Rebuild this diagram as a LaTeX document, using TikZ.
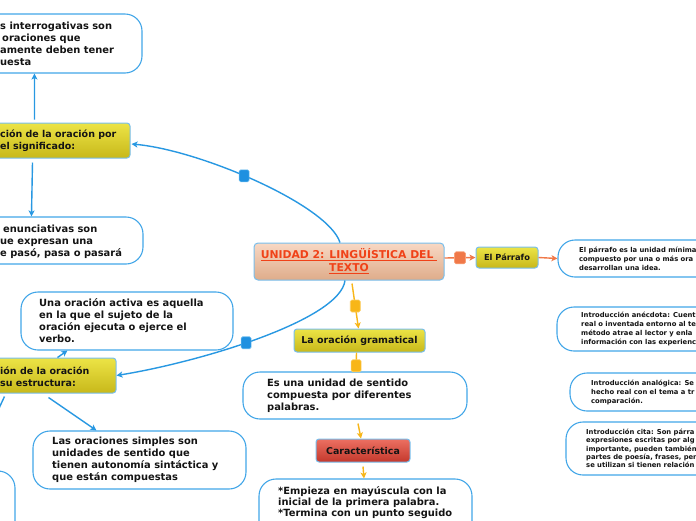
\documentclass[tikz,border=0pt]{standalone}
\usepackage{fontspec}
\setmainfont{DejaVu Sans}
\usetikzlibrary{arrows.meta,calc}
\definecolor{lineblue}{RGB}{40,152,226}
\definecolor{bubbleblue}{RGB}{66,166,232}
\definecolor{boxedge}{RGB}{120,190,236}
\definecolor{yeltop}{RGB}{236,228,70}
\definecolor{yelbot}{RGB}{200,184,26}
\definecolor{peachtop}{RGB}{248,216,196}
\definecolor{peachbot}{RGB}{222,172,138}
\definecolor{titlered}{RGB}{240,66,24}
\definecolor{orangeline}{RGB}{240,120,72}
\definecolor{orangeedge}{RGB}{248,160,120}
\definecolor{goldline}{RGB}{248,182,24}
\definecolor{goldedge}{RGB}{252,206,100}
\definecolor{redtop}{RGB}{236,112,98}
\definecolor{redbot}{RGB}{196,56,44}
\definecolor{sqblue}{RGB}{30,144,224}
\definecolor{sqblueedge}{RGB}{110,190,240}
\definecolor{textblack}{RGB}{20,20,20}
\begin{document}
\begin{tikzpicture}[x=1pt,y=-1pt,
  bubble/.style={draw=bubbleblue, line width=1.1pt, fill=white, rounded corners=17pt, inner sep=0pt},
  btext/.style={anchor=west, align=left, inner sep=0pt, font=\fontsize{9.9}{12}\selectfont\bfseries, text=textblack},
  stext/.style={btext, font=\fontsize{6.8}{8.8}\selectfont\bfseries},
  ybox/.style={draw=boxedge, line width=1pt, rounded corners=3pt, top color=yeltop, bottom color=yelbot, inner sep=0pt, font=\fontsize{9.5}{12}\selectfont\bfseries, text=textblack},
  conn/.style={line width=1.4pt, -{Stealth[length=6pt,width=6pt,inset=1.5pt]}},
  sqbase/.style={minimum width=10pt, minimum height=12pt, inner sep=0pt, rounded corners=1.5pt, line width=0.6pt},
  sqb/.style={sqbase, draw=sqblueedge, fill=sqblue},
  sqo/.style={sqbase, minimum width=11pt, draw=orangeedge, fill=orangeline},
  sqg/.style={sqbase, draw=goldedge, fill=goldline},
]
\useasboundingbox (0,0) rectangle (696,520);
\clip (0,0) rectangle (696,520);
\fill[white] (0,0) rectangle (696,520);

% ---- boxes ----
\node[bubble, minimum width=170pt, minimum height=59pt] (top) at (57,43.5) {};
\node[btext] (topt) at (0,44) {s interrogativas son\\\hspace*{2pt}oraciones que\\amente deben tener\\uesta};

\node[ybox, minimum width=140pt, minimum height=35pt] (sig) at (60,140.5) {};
\node[btext, font=\fontsize{9.5}{12}\selectfont\bfseries] (sigt) at (0,141) {ción de la oración por\\el significado:};

\node[bubble, minimum width=165pt, minimum height=47pt] (enu) at (60.5,240.5) {};
\node[btext] (enut) at (0,241.3) {\hspace*{3pt}enunciativas son\\ue expresan una\\e pasó, pasa o pasará};

\node[bubble, minimum width=212pt, minimum height=58pt] (act) at (127,321) {};
\node[btext] (actt) at (39,321) {Una oración activa es aquella\\en la que el sujeto de la\\oración ejecuta o ejerce el\\verbo.};

\node[ybox, minimum width=131pt, minimum height=35pt] (est) at (50.5,375.5) {};
\node[btext, font=\fontsize{9.5}{12}\selectfont\bfseries] (estt) at (0,377) {ión de la oración\\su estructura:};

\node[bubble, minimum width=213pt, minimum height=58pt] (simp) at (139.5,460) {};
\node[btext] (simpt) at (52,460) {Las oraciones simples son\\unidades de sentido que\\tienen autonomía sintáctica y\\que están compuestas};

\node[bubble, minimum width=90pt, minimum height=129pt] (pb) at (-30,535.5) {};

\node[draw=boxedge, line width=1pt, rounded corners=4pt, top color=peachtop, bottom color=peachbot,
      minimum width=190pt, minimum height=37pt, inner sep=0pt, align=center,
      font=\fontsize{10.8}{13}\selectfont\bfseries, text=titlered] (c) at (349,261.5)
      {\underline{UNIDAD 2: LINGÜÍSTICA DEL }\\\underline{TEXTO}};

\node[ybox, minimum width=62pt, minimum height=21pt, font=\fontsize{8.3}{10}\selectfont\bfseries] (par) at (507,257.5) {El Párrafo};

\node[ybox, minimum width=131pt, minimum height=23pt] (gram) at (359.5,340.5) {La oración gramatical};

\node[bubble, minimum width=224pt, minimum height=47pt] (esu) at (355,395.5) {};
\node[btext] (esut) at (267,396) {Es una unidad de sentido\\compuesta por diferentes\\palabras.};

\node[draw=boxedge, line width=1pt, rounded corners=3pt, top color=redtop, bottom color=redbot,
      minimum width=94pt, minimum height=23pt, inner sep=0pt,
      font=\fontsize{9.4}{12}\selectfont\bfseries, text=textblack] (car) at (363,450.5) {Característica};

\node[bubble, minimum width=213pt, minimum height=81pt] (emp) at (365.5,519.5) {};
\node[btext, font=\fontsize{9.9}{11}\selectfont\bfseries] (empt) at (278,503) {*Empieza en mayúscula con la\\inicial de la primera palabra.\\*Termina con un punto seguido};

\node[bubble, minimum width=242pt, minimum height=37pt] (p1) at (679,258.5) {};
\node[stext] (p1t) at (579,259) {El párrafo es la unidad mínima\\compuesto por una o más ora\\desarrollan una idea.};

\node[bubble, minimum width=243pt, minimum height=44pt] (p2) at (678.5,329) {};
\node[stext] (p2t) at (581,329) {Introducción anécdota: Cuent\\real o inventada entorno al te\\método atrae al lector y enla\\información con las experienc};

\node[bubble, minimum width=230pt, minimum height=38pt] (p3) at (685,392) {};
\node[stext] (p3t) at (591,392.5) {Introducción analógica: Se\\hecho real con el tema a tr\\comparación.};

\node[bubble, minimum width=234pt, minimum height=53pt] (p4) at (683,448.5) {};
\node[stext, font=\fontsize{6.8}{8.4}\selectfont\bfseries] (p4t) at (586,448.5) {Introducción cita: Son párra\\expresiones escritas por alg\\importante, pueden también\\partes de poesía, frases, pen\\se utilizan si tienen relación};

% ---- connectors ----
\draw[conn, lineblue] ($(c.north)+(-9,0)$) .. controls (328,205) and (200,150) .. ($(sig.east)+(1,3.5)$) node[sqb, pos=0.55] {};
\draw[conn, lineblue] ($(c.south)+(-4,0)$) .. controls (340,320) and (200,362) .. (est.east) node[sqb, pos=0.55] {};

\draw[conn, lineblue] ($(sig.north west)+(45,-3)$) -- ($(top.south west)+(63,0)$);
\draw[conn, lineblue] ($(sig.south west)+(43,4)$) -- ($(enu.north west)+(54,0)$);
\draw[conn, lineblue] ($(est.north west)+(73,0)$) -- ($(act.south west)+(47,0)$);
\draw[conn, lineblue] ($(est.south west)+(64,4)$) -- ($(simp.north west)+(64,0)$);
\draw[conn, lineblue] ($(est.south west)+(20,3)$) -- (pb.north);

\draw[conn, orangeline] ($(c.east)+(0,-3.5)$) -- (par.west) node[sqo, midway] {};
\draw[conn, orangeline] (par.east) -- (p1.west);

\draw[conn, goldline] ($(c.south)+(3,3)$) -- ($(gram.north)+(-1,0)$) node[sqg, pos=0.5] {};
\draw[conn, goldline] ($(gram.south)+(-3,0)$) -- ($(esu.north)+(1,0)$) node[sqg, pos=0.7] {};
\draw[conn, goldline] ($(esu.south)+(3,4)$) -- ($(car.north)+(-2,0)$);
\draw[conn, goldline] ($(car.south)+(0,4)$) -- ($(emp.north)+(-1.5,0)$);
\end{tikzpicture}
\end{document}
